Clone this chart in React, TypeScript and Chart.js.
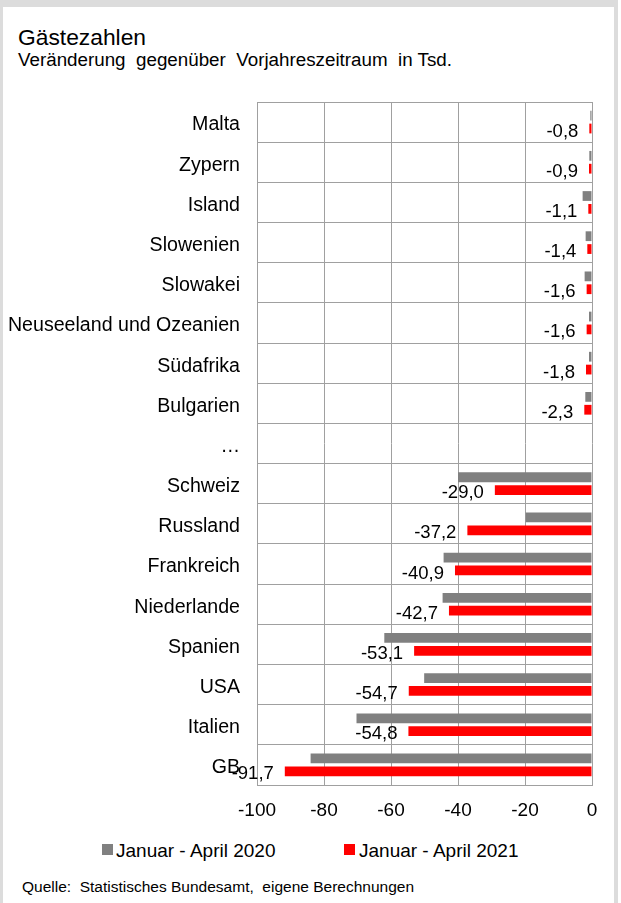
import React, { useEffect, useRef } from "react";
import { Chart, registerables } from "chart.js";

Chart.register(...registerables);

const categories = [
  "Malta",
  "Zypern",
  "Island",
  "Slowenien",
  "Slowakei",
  "Neuseeland und Ozeanien",
  "Südafrika",
  "Bulgarien",
  "…",
  "Schweiz",
  "Russland",
  "Frankreich",
  "Niederlande",
  "Spanien",
  "USA",
  "Italien",
  "GB",
];

const values2020: (number | null)[] = [
  -0.5, -0.8, -2.8, -1.9, -2.2, -0.9, -0.9, -2.0, null,
  -40.0, -19.8, -44.3, -44.6, -62.0, -50.1, -70.3, -84.0,
];

const values2021: (number | null)[] = [
  -0.8, -0.9, -1.1, -1.4, -1.6, -1.6, -1.8, -2.3, null,
  -29.0, -37.2, -40.9, -42.7, -53.1, -54.7, -54.8, -91.7,
];

const seriesLabels = ["Januar - April 2020", "Januar - April 2021"];
const seriesColors = ["#808080", "#ff0000"];

const xMin = -100;
const xMax = 0;
const xStep = 20;

const FONT = '"Liberation Sans", Arial, Helvetica, sans-serif';

const redLabelPlugin = {
  id: "redLabels",
  afterDatasetsDraw(chart: any) {
    const ctx = chart.ctx;
    const meta = chart.getDatasetMeta(1);
    ctx.save();
    ctx.font = `18.5px ${FONT}`;
    ctx.fillStyle = "#000";
    ctx.textAlign = "right";
    ctx.textBaseline = "middle";
    meta.data.forEach((bar: any, i: number) => {
      const v = values2021[i];
      if (v == null) return;
      const p = bar.getProps(["x", "y"], true);
      ctx.fillText(v.toFixed(1).replace(".", ","), p.x - 11, p.y + 3);
    });
    ctx.restore();
  },
};

export default function App() {
  const canvasRef = useRef<HTMLCanvasElement | null>(null);

  useEffect(() => {
    document.body.style.margin = "0";
    const canvas = canvasRef.current;
    if (!canvas) return;
    Chart.defaults.font.family = FONT;
    const chart = new Chart(canvas, {
      type: "bar",
      data: {
        labels: categories,
        datasets: [
          {
            label: seriesLabels[0],
            data: values2020,
            backgroundColor: seriesColors[0],
            borderWidth: 0,
            categoryPercentage: 0.64,
            barPercentage: 0.76,
          },
          {
            label: seriesLabels[1],
            data: values2021,
            backgroundColor: seriesColors[1],
            borderWidth: 0,
            categoryPercentage: 0.64,
            barPercentage: 0.76,
          },
        ],
      },
      options: {
        indexAxis: "y",
        animation: false,
        responsive: false,
        maintainAspectRatio: false,
        layout: { padding: { top: 12, right: 29, bottom: 0, left: 0 } },
        plugins: {
          legend: { display: false },
          tooltip: { enabled: false },
          title: { display: false },
        },
        scales: {
          x: {
            min: xMin,
            max: xMax,
            ticks: {
              stepSize: xStep,
              color: "#000",
              font: { size: 19, family: FONT },
              padding: 14,
            },
            grid: { color: "#a0a0a0", lineWidth: 1, drawTicks: false },
            border: { display: true, color: "#a0a0a0" },
            afterFit(scale: any) {
              scale.height = 45;
              scale.paddingLeft = 0;
              scale.paddingRight = 0;
            },
          },
          y: {
            ticks: {
              color: "#000",
              font: { size: 19.6, family: FONT },
              padding: 17,
              labelOffset: 3,
              autoSkip: false,
            },
            grid: { color: "#a0a0a0", lineWidth: 1, drawTicks: false, offset: true },
            border: { display: true, color: "#a0a0a0" },
            afterFit(scale: any) {
              scale.width = 257;
              scale.paddingTop = 0;
              scale.paddingBottom = 0;
            },
          },
        },
      },
      plugins: [redLabelPlugin],
    });
    return () => chart.destroy();
  }, []);

  const text: React.CSSProperties = {
    position: "absolute",
    fontFamily: FONT,
    color: "#000",
    whiteSpace: "pre",
    lineHeight: 1,
    margin: 0,
  };

  return (
    <div style={{ position: "absolute", left: 0, top: 0, width: 621, height: 903, background: "#fff", overflow: "hidden" }}>
      <div
        style={{
          position: "absolute",
          left: 0,
          top: 0,
          width: 618,
          height: 903,
          boxSizing: "border-box",
          borderTop: "7px solid #dcdcdc",
          borderLeft: "3px solid #dcdcdc",
          borderRight: "4px solid #dcdcdc",
        }}
      />
      <div style={{ ...text, left: 18, top: 26, fontSize: 22.8 }}>Gästezahlen</div>
      <div style={{ ...text, left: 18, top: 51, fontSize: 18.8 }}>
        {"Veränderung  gegenüber  Vorjahreszeitraum  in Tsd."}
      </div>
      <canvas
        ref={canvasRef}
        width={621}
        height={740}
        style={{ position: "absolute", left: 0, top: 90, width: 621, height: 740 }}
      />
      <div style={{ position: "absolute", left: 102, top: 844, width: 11, height: 11, background: seriesColors[0] }} />
      <div style={{ ...text, left: 116, top: 841, fontSize: 19 }}>{seriesLabels[0]}</div>
      <div style={{ position: "absolute", left: 344, top: 844, width: 11, height: 11, background: seriesColors[1] }} />
      <div style={{ ...text, left: 359, top: 841, fontSize: 19 }}>{seriesLabels[1]}</div>
      <div style={{ ...text, left: 22, top: 879, fontSize: 15.5 }}>
        {"Quelle:  Statistisches Bundesamt,  eigene Berechnungen"}
      </div>
    </div>
  );
}
